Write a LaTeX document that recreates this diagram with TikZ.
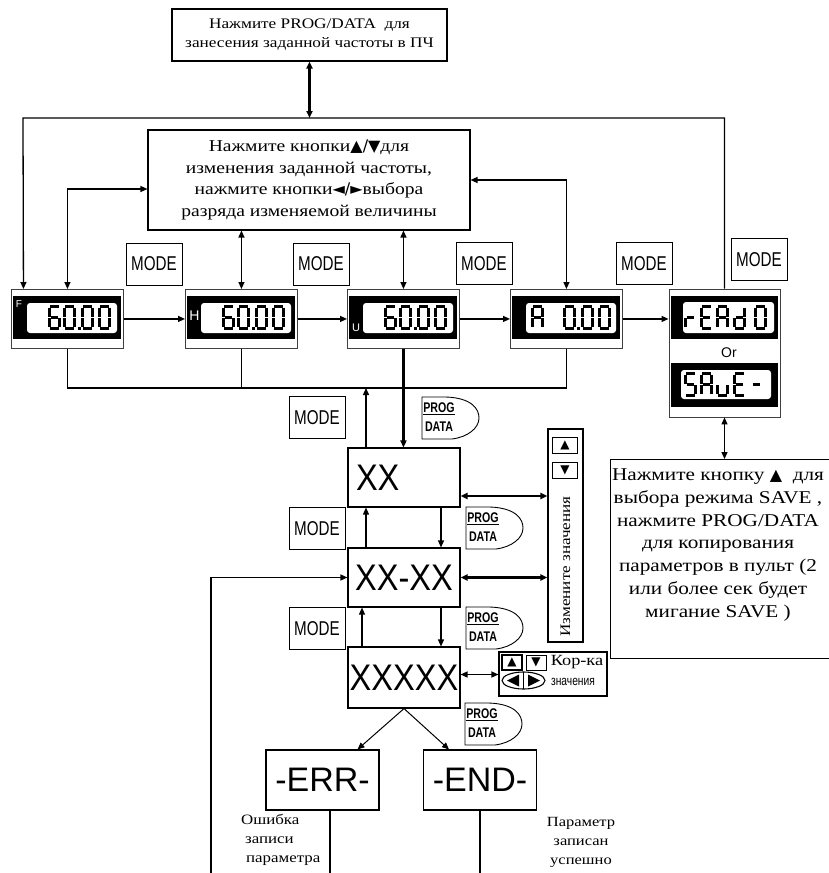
\documentclass[tikz,border=0pt]{standalone}
\usepackage{fontspec}
\setmainfont[FakeStretch=1.18]{Liberation Serif}
\newfontfamily\sansf{Liberation Sans}
\newfontfamily\narrowf[FakeStretch=0.76]{Liberation Sans}
\newfontfamily\dispf[FakeStretch=0.88]{Liberation Sans}
\newfontfamily\symf{DejaVu Sans}
\usetikzlibrary{arrows.meta}

\tikzset{
 ln/.style={line width=1.3pt},
 thk/.style={line width=2.2pt},
 tip/.style={-{Triangle[length=7pt,width=6pt]}},
 dtip/.style={{Triangle[length=7pt,width=6pt]}-{Triangle[length=7pt,width=6pt]}},
 box/.style={draw, line width=1.1pt, inner sep=0pt},
 modebox/.style={draw, line width=0.9pt, minimum width=56pt, minimum height=42pt, inner sep=0pt, font=\narrowf\fontsize{20}{20}\selectfont},
 panel/.style={draw=black!75, line width=0.9pt, minimum width=112pt, minimum height=59pt, inner sep=0pt},
 disp/.style={draw, line width=1.1pt, inner sep=0pt, font=\dispf\fontsize{37}{37}\selectfont},
 errbox/.style={draw, line width=1.1pt, inner sep=0pt, minimum width=113pt, minimum height=60pt, font=\sansf\fontsize{34}{34}\selectfont},
 seg/.style={line width=2.8pt},
 plab/.style={inner sep=0pt, text=white, font=\sansf\fontsize{11}{11}\selectfont},
 keybox/.style={draw, line width=1pt, inner sep=0pt, minimum width=25pt, minimum height=16pt, font=\symf\fontsize{12}{12}\selectfont},
}

\newcommand\sgA{\draw[seg] (2.2,1.4)--(10.8,1.4);}
\newcommand\sgB{\draw[seg] (11.6,2.6)--(11.6,11.6);}
\newcommand\sgC{\draw[seg] (11.6,13.4)--(11.6,22.4);}
\newcommand\sgD{\draw[seg] (2.2,23.6)--(10.8,23.6);}
\newcommand\sgE{\draw[seg] (1.4,13.4)--(1.4,22.4);}
\newcommand\sgF{\draw[seg] (1.4,2.6)--(1.4,11.6);}
\newcommand\sgG{\draw[seg] (2.6,12.5)--(10.4,12.5);}
\newcommand\lcPt{\fill (0,21.5) rectangle (3,25);}
\newcommand\lcSix{\sgA\sgC\sgD\sgE\sgF\sgG}
\newcommand\lcZero{\sgA\sgB\sgC\sgD\sgE\sgF}
\newcommand\lcA{\sgA\sgB\sgC\sgE\sgF\sgG}
\newcommand\lcR{\sgE\sgG}
\newcommand\lcE{\sgA\sgD\sgE\sgF\sgG}
\newcommand\lcD{\sgB\sgC\sgD\sgE\sgG}
\newcommand\lcS{\sgA\sgC\sgD\sgF\sgG}
\newcommand\lcV{\sgC\sgD\sgE}
\newcommand\lcDash{\sgG}
\newcommand\lcd[3]{\begin{scope}[shift={(#1,#2)}]#3\end{scope}}

\newcommand\pnl[2]{%
 \node[panel, anchor=north west] (#1) at (#2,289) {};
 \fill (#2+2,296) rectangle (#2+110,339);
 \fill[white, rounded corners=3pt] (#2+16,303) rectangle (#2+106,333);
}
\newcommand\sixty[1]{%
 \lcd{#1+37}{305}{\lcSix}\lcd{#1+52}{305}{\lcZero}\lcd{#1+66.5}{305}{\lcPt}%
 \lcd{#1+70}{305}{\lcZero}\lcd{#1+87}{305}{\lcZero}}

\newcommand\pdlab[3]{%
 \begin{scope}[shift={(#2,#3)}]
  \draw[line width=0.9pt] (0,42) -- (0,0) -- (24,0) .. controls (50,1) and (57,12) .. (57,21) .. controls (57,31) and (46,40) .. (30,42) -- cycle;
  \node[inner sep=0pt, font=\narrowf\bfseries\fontsize{14}{14}\selectfont] (#1a) at (17,12) {\underline{PROG}};
  \node[inner sep=0pt, font=\narrowf\bfseries\fontsize{14}{14}\selectfont] (#1b) at (17,30) {DATA};
 \end{scope}}

\begin{document}
\begin{tikzpicture}[x=1pt,y=-1pt]
\useasboundingbox (0,0) rectangle (829,873);

% ---------- top box ----------
\node[box, minimum width=275pt, minimum height=52pt, align=center, font=\fontsize{14.6}{19}\selectfont] (top) at (309.5,35) {Нажмите PROG/DATA\ \ для\\занесения заданной частоты в ПЧ};

% ---------- middle text box ----------
\node[box, minimum width=322pt, minimum height=100pt, align=center, font=\fontsize{16.6}{21.5}\selectfont] (mid) at (309,180)
 {Нажмите кнопки{\symf\fontsize{16}{16}\selectfont ▲/▼}для\\изменения заданной частоты,\\нажмите кнопки{\symf\fontsize{16}{16}\selectfont ◄/►}выбора\\разряда изменяемой величины};

% ---------- panels ----------
\pnl{F}{11}
\pnl{H}{185}
\pnl{U}{347}
\pnl{A}{510}
\sixty{11}
\sixty{185}
\sixty{347}
\lcd{531}{305}{\lcA}\lcd{563}{305}{\lcZero}\lcd{577}{305}{\lcPt}\lcd{581}{305}{\lcZero}\lcd{598}{305}{\lcZero}
\node[plab, font=\sansf\fontsize{10}{10}\selectfont] (lf) at (19,304) {F};
\node[plab, font=\sansf\fontsize{14}{14}\selectfont] (lh) at (194.5,316) {H};
\node[plab] (lu) at (356,328) {U};

% read / save panel
\node[draw=black!75, line width=0.9pt, minimum width=111pt, minimum height=128pt, inner sep=0pt] (R) at (724.5,353) {};
\fill (671,296) rectangle (778,339);
\fill[white, rounded corners=3pt] (683,302) rectangle (774,333);
\fill (671,363) rectangle (778,407);
\fill[white, rounded corners=3pt] (681,370) rectangle (771,399);
\lcd{684}{305}{\lcR}\lcd{700}{305}{\lcE}\lcd{716}{305}{\lcA}\lcd{733}{305}{\lcD}\lcd{754}{305}{\lcZero}
\lcd{684}{372}{\lcS}\lcd{700}{372}{\lcA}\lcd{716}{372}{\lcV}\lcd{733}{372}{\lcE}\lcd{750}{372}{\lcDash}
\node[inner sep=0pt, font=\sansf\fontsize{14}{14}\selectfont] (or) at (729,353) {Or};

% ---------- MODE boxes ----------
\node[modebox] (m1) at (154,264) {MODE};
\node[modebox] (m2) at (321,264) {MODE};
\node[modebox] (m3) at (484,263.5) {MODE};
\node[modebox] (m4) at (644,263.5) {MODE};
\node[modebox] (m5) at (759,259.5) {MODE};
\node[modebox] (m6) at (317,417.5) {MODE};
\node[modebox] (m7) at (317,528.5) {MODE};
\node[modebox] (m8) at (317,628.5) {MODE};

% ---------- PROG/DATA labels ----------
\pdlab{p1}{422}{397}
\pdlab{p2}{466}{507}
\pdlab{p3}{466}{607}
\pdlab{p4}{465}{703}

% ---------- XX boxes ----------
\node[disp, minimum width=112pt, minimum height=59pt, text width=96pt, align=left] (XX) at (404,477.5) {XX};
\node[disp, minimum width=112pt, minimum height=59pt] (XXb) at (404,577.5) {XX-XX};
\node[disp, minimum width=112pt, minimum height=61pt] (XXc) at (404,677.5) {XXXXX};

% side box
\node[box, minimum width=35pt, minimum height=213pt] (V) at (565.5,535.5) {};
\node[keybox] (vup) at (565,445) {▲};
\node[keybox] (vdn) at (565,470) {▼};
\node[rotate=90, inner sep=0pt, font=\fontsize{14.5}{14.5}\selectfont] (vt) at (565.5,566.5) {Измените значения};

% correction box
\node[box, minimum width=108pt, minimum height=44pt] (K) at (553,674) {};
\node[keybox, minimum width=20pt, minimum height=15pt, line width=1.4pt] (kup) at (512,662.5) {▲};
\node[keybox, minimum width=20pt, minimum height=15pt] (kdn) at (536,662.5) {▼};
\node[inner sep=0pt, font=\fontsize{15.5}{15.5}\selectfont] (kt) at (577,662) {Кор-ка};
\draw[line width=1.1pt] (523.5,680.5) ellipse (21.5pt and 8.5pt);
\draw[line width=1.4pt] (523.5,672) -- (523.5,689);
\fill (507,680.5) -- (519,674.5) -- (519,686.5) -- cycle;
\fill (540,680.5) -- (528,674.5) -- (528,686.5) -- cycle;
\node[inner sep=0pt, font=\narrowf\fontsize{13.5}{13.5}\selectfont] (kv) at (573,682) {значения};

% ERR / END
\node[errbox] (err) at (322.5,780) {-ERR-};
\node[errbox] (end) at (480,780) {-END-};
\node[anchor=north west, align=left, inner sep=0pt, font=\fontsize{14.3}{19}\selectfont] (errtxt) at (241,814) {Ошибка\\\hspace*{4pt}записи\\\hspace*{5pt}параметра};
\node[align=center, inner sep=0pt, font=\fontsize{14}{19}\selectfont] (endtxt) at (581,842) {Параметр\\записан\\успешно};

% right text box
\node[box, minimum width=222pt, minimum height=199pt, anchor=north west] (T) at (610,459) {};
\node[align=center, inner sep=0pt, font=\fontsize{18}{22.7}\selectfont] (Ttxt) at (718,545)
 {Нажмите кнопку {\symf\fontsize{16}{16}\selectfont ▲}\ \ для\\выбора режима SAVE ,\\нажмите PROG/DATA\\для копирования\\параметров в пульт (2\\или более сек будет\\мигание SAVE )};

% ---------- coordinates ----------
\coordinate (busL) at (23,118);
\coordinate (bus2) at (67,388);
\coordinate (botline) at (0,873);
\coordinate (lb) at (211,873);

% ---------- connectors ----------
\draw[ln,tip] (R.north) |- (busL) -- ([xshift=-44pt]F.north);
\draw[thk,dtip] (top.south) -- (top.south |- busL);

\draw[ln,dtip] ([yshift=-9pt]mid.west) -| (F.north);
\draw[ln,dtip] (mid.east) -| (A.north);
\draw[ln,dtip] (mid.south -| H.north) -- (H.north);
\draw[ln,dtip] (mid.south -| U.north) -- (U.north);

\draw[ln,tip] (F.east) -- (H.west);
\draw[ln,tip] (H.east) -- (U.west);
\draw[ln,tip] (U.east) -- (A.west);
\draw[ln,tip] (A.east) -- (A.east -| R.west);

\draw[ln] (F.south) -- (F.south |- bus2) -- (A.south |- bus2) -- (A.south);
\draw[ln] (H.south) -- (H.south |- bus2);
\draw[thk,tip] (U.south) -- (U.south |- XX.north);
\draw[ln,tip] ([xshift=-38pt]XX.north) -- ([xshift=-38pt]XX.north |- bus2);

\draw[thk,dtip] ([yshift=-18.5pt]XX.east) -- ([yshift=-18.5pt]XX.east -| V.west);
\draw[thk,dtip] (XXb.east) -- (XXb.east -| V.west);
\draw[ln,tip] ([xshift=37pt]XX.south) -- ([xshift=37pt]XXb.north);
\draw[ln,tip] ([xshift=-38pt]XXb.north) -- ([xshift=-38pt]XX.south);
\draw[ln,tip] ([xshift=37pt]XXb.south) -- ([xshift=37pt]XXc.north);
\draw[ln,tip] ([xshift=-42pt]XXc.north) -- ([xshift=-42pt]XXb.south);
\draw[ln,tip] (lb) |- (XXb.west);
\draw[ln,dtip] ([yshift=3pt]XXc.east) -- ([yshift=3pt]XXc.east -| K.west);

\draw[line width=1pt,tip] (XXc.south) -- ([xshift=35pt]err.north);
\draw[line width=1pt,tip] (XXc.south) -- ([xshift=-31pt]end.north);
\draw[ln] ([xshift=7.5pt]err.south) -- ([xshift=7.5pt]err.south |- botline);
\draw[ln] (end.south) -- (end.south |- botline);

\draw[ln,dtip] (R.south) -- (R.south |- T.north);
\end{tikzpicture}
\end{document}
